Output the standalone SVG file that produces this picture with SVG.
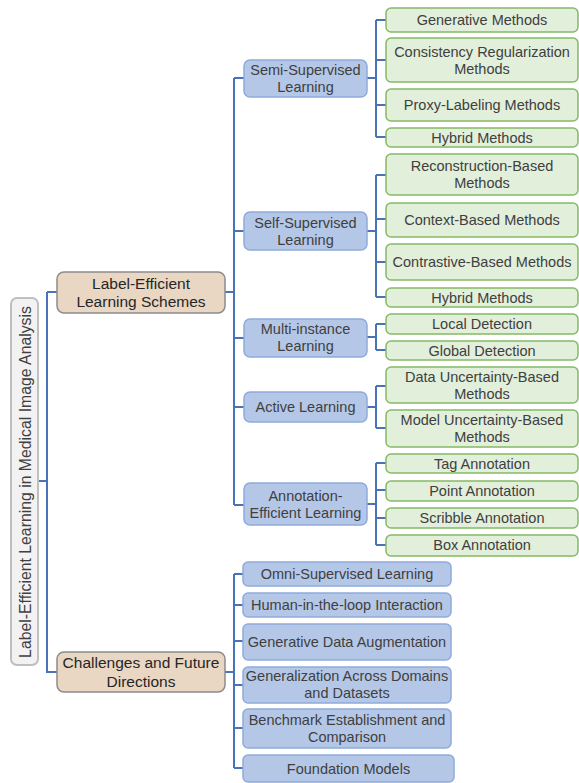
<svg xmlns="http://www.w3.org/2000/svg" width="579" height="783" viewBox="0 0 579 783">
<style>
text{font-family:"Liberation Sans",Arial,sans-serif;font-size:14.5px;fill:#404040;text-anchor:middle}
.root rect{fill:#f2f2f2;stroke:#bfbfbf;stroke-width:2}
.l1 rect{fill:#e9d6c3;stroke:#8c8c8c;stroke-width:1.5}
.l1 text{font-size:15.5px;fill:#262626}
.l2 rect{fill:#b4c7e7;stroke:#8faadc;stroke-width:1.5}
.l3 rect{fill:#e2efda;stroke:#84bb65;stroke-width:1.5}
#connectors path{fill:none;stroke:#4a72b8;stroke-width:2}
</style>
<rect width="579" height="783" fill="#ffffff"/>
<g id="connectors">
<path d="M38 481H47M47 292V673M47 292H57M47 672H57"/>
<path d="M225 292H234M234 78V505M234 78H244M234 231H244M234 338H244M234 407H244M234 505H244"/>
<path d="M225 672H234M234 574V768M234 574H243M234 605H243M234 641H243M234 685H243M234 728H243M234 768H243"/>
<path d="M367 78H376M376 20V137M376 20H386M376 60H386M376 105H386M376 137H386"/>
<path d="M367 231H376M376 175V297M376 175H386M376 219H386M376 262H386M376 297H386"/>
<path d="M367 337H376M376 324V350M376 324H386M376 350H386"/>
<path d="M367 407H376M376 386V428M376 386H386M376 428H386"/>
<path d="M367 504H376M376 463V545M376 463H386M376 490H386M376 518H386M376 545H386"/>
</g>
<g id="root" class="root"><rect x="11" y="298" width="27" height="367" rx="6"/><text transform="translate(30.5 482) rotate(-90)" style="font-size:15.8px">Label-Efficient Learning in Medical Image Analysis</text></g>
<g id="les" class="l1"><rect x="57" y="272" width="168" height="41" rx="7"/><text x="141" y="288.5">Label-Efficient</text><text x="141" y="307">Learning Schemes</text></g>
<g id="cfd" class="l1"><rect x="57" y="652" width="168" height="40" rx="7"/><text x="141" y="668">Challenges and Future</text><text x="141" y="686.5">Directions</text></g>
<g id="semi" class="l2"><rect x="244" y="60" width="123" height="37" rx="6"/><text x="305.5" y="74.5">Semi-Supervised</text><text x="305.5" y="91.5">Learning</text></g>
<g id="self" class="l2"><rect x="244" y="212" width="123" height="38" rx="6"/><text x="305.5" y="227.5">Self-Supervised</text><text x="305.5" y="244.5">Learning</text></g>
<g id="mil" class="l2"><rect x="244" y="319" width="123" height="38" rx="6"/><text x="305.5" y="333.5">Multi-instance</text><text x="305.5" y="350.5">Learning</text></g>
<g id="al" class="l2"><rect x="244" y="392" width="123" height="30" rx="6"/><text x="305.5" y="412">Active Learning</text></g>
<g id="ael" class="l2"><rect x="244" y="483" width="123" height="42" rx="6"/><text x="305.5" y="500.5">Annotation-</text><text x="305.5" y="517.5">Efficient Learning</text></g>
<g id="gen" class="l3"><rect x="386" y="8" width="192" height="24" rx="5"/><text x="482" y="25">Generative Methods</text></g>
<g id="cons" class="l3"><rect x="386" y="38" width="192" height="44" rx="5"/><text x="482" y="56.5">Consistency Regularization</text><text x="482" y="73.5">Methods</text></g>
<g id="proxy" class="l3"><rect x="386" y="89" width="192" height="32" rx="5"/><text x="482" y="110">Proxy-Labeling Methods</text></g>
<g id="hyb1" class="l3"><rect x="386" y="128" width="192" height="19" rx="5"/><text x="482" y="142.5">Hybrid Methods</text></g>
<g id="recon" class="l3"><rect x="386" y="154" width="192" height="41" rx="5"/><text x="482" y="171">Reconstruction-Based</text><text x="482" y="188">Methods</text></g>
<g id="ctx" class="l3"><rect x="386" y="203" width="192" height="34" rx="5"/><text x="482" y="224.5">Context-Based Methods</text></g>
<g id="contr" class="l3"><rect x="386" y="244" width="192" height="36" rx="5"/><text x="482" y="267">Contrastive-Based Methods</text></g>
<g id="hyb2" class="l3"><rect x="386" y="288" width="192" height="19" rx="5"/><text x="482" y="302.5">Hybrid Methods</text></g>
<g id="local" class="l3"><rect x="386" y="314" width="192" height="20" rx="5"/><text x="482" y="329">Local Detection</text></g>
<g id="global" class="l3"><rect x="386" y="341" width="192" height="19" rx="5"/><text x="482" y="355.5">Global Detection</text></g>
<g id="dataunc" class="l3"><rect x="386" y="367" width="192" height="36" rx="5"/><text x="482" y="381.5">Data Uncertainty-Based</text><text x="482" y="398.5">Methods</text></g>
<g id="modelunc" class="l3"><rect x="386" y="410" width="192" height="37" rx="5"/><text x="482" y="424.5">Model Uncertainty-Based</text><text x="482" y="441.5">Methods</text></g>
<g id="tag" class="l3"><rect x="386" y="454" width="192" height="19" rx="5"/><text x="482" y="468.5">Tag Annotation</text></g>
<g id="point" class="l3"><rect x="386" y="481" width="192" height="20" rx="5"/><text x="482" y="495.5">Point Annotation</text></g>
<g id="scribble" class="l3"><rect x="386" y="508" width="192" height="20" rx="5"/><text x="482" y="523">Scribble Annotation</text></g>
<g id="box" class="l3"><rect x="386" y="535" width="192" height="21" rx="5"/><text x="482" y="550">Box Annotation</text></g>
<g id="omni" class="l2"><rect x="243" y="562" width="208" height="24" rx="5"/><text x="347" y="579">Omni-Supervised Learning</text></g>
<g id="hitl" class="l2"><rect x="243" y="593" width="208" height="24" rx="5"/><text x="347" y="610">Human-in-the-loop Interaction</text></g>
<g id="gda" class="l2"><rect x="243" y="624" width="208" height="36" rx="5"/><text x="347" y="647">Generative Data Augmentation</text></g>
<g id="gadd" class="l2"><rect x="243" y="667" width="208" height="36" rx="5"/><text x="347" y="681">Generalization Across Domains</text><text x="347" y="698">and Datasets</text></g>
<g id="bench" class="l2"><rect x="243" y="709" width="208" height="39" rx="5"/><text x="347" y="724.5">Benchmark Establishment and</text><text x="347" y="741.5">Comparison</text></g>
<g id="fm" class="l2"><rect x="243" y="755" width="211" height="27" rx="5"/><text x="348.5" y="773.5">Foundation Models</text></g>
</svg>
